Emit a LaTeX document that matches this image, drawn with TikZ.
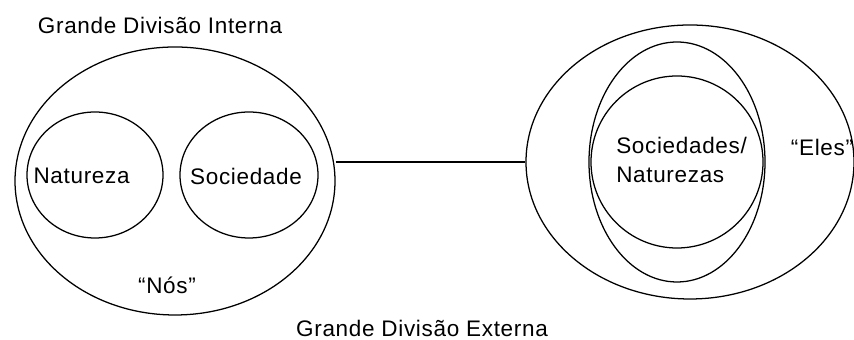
\documentclass[tikz,border=0pt]{standalone}
\usepackage{fontspec}
\setmainfont{Liberation Sans}[LetterSpace=3]
\usetikzlibrary{shapes.geometric}
\tikzset{
  ring/.style={draw=black, ellipse, inner sep=0pt, line width=0.9pt},
  lbl/.style={inner sep=0pt, align=left, font=\fontsize{16}{20}\selectfont},
  link/.style={line width=0.9pt}
}
\begin{document}
\begin{tikzpicture}
\useasboundingbox[fill=white] (0,0) rectangle (21.35,8.5);

% lado "Nos"
\node[ring, minimum width=8cm, minimum height=6.7cm] (nos) at (4.375,3.975) {};
\node[ring, minimum width=3.4cm, minimum height=3.15cm] (natcirc) at (2.375,4.125) {};
\node[ring, minimum width=3.45cm, minimum height=3.15cm] (soccirc) at (6.225,4.125) {};
\node[lbl] (nat) at (2.04,4.1) {Natureza};
\node[lbl] (soc) at (6.15,4.1) {Sociedade};
\node[lbl] (noslbl) at (4.175,1.375) {“Nós”};
\node[lbl] (interna) at (4.0,7.875) {Grande Divisão Interna};

% lado "Eles"
\node[ring, minimum width=8.2cm, minimum height=6.85cm] (eles) at (17.25,4.45) {};
\node[ring, minimum width=4.4cm, minimum height=6cm] (mix1) at (16.925,4.45) {};
\node[ring, minimum width=4.3cm, minimum height=4.3cm] (mix2) at (16.925,4.45) {};
\node[lbl, anchor=west] (socnat) at (15.4,4.5) {Sociedades/\\Naturezas};
\node[lbl] (eleslbl) at (20.55,4.825) {“Eles”};

\node[lbl] (externa) at (10.55,0.3) {Grande Divisão Externa};

\draw[link] (eles.west -| nos.east) -- (eles.west);
\end{tikzpicture}
\end{document}
